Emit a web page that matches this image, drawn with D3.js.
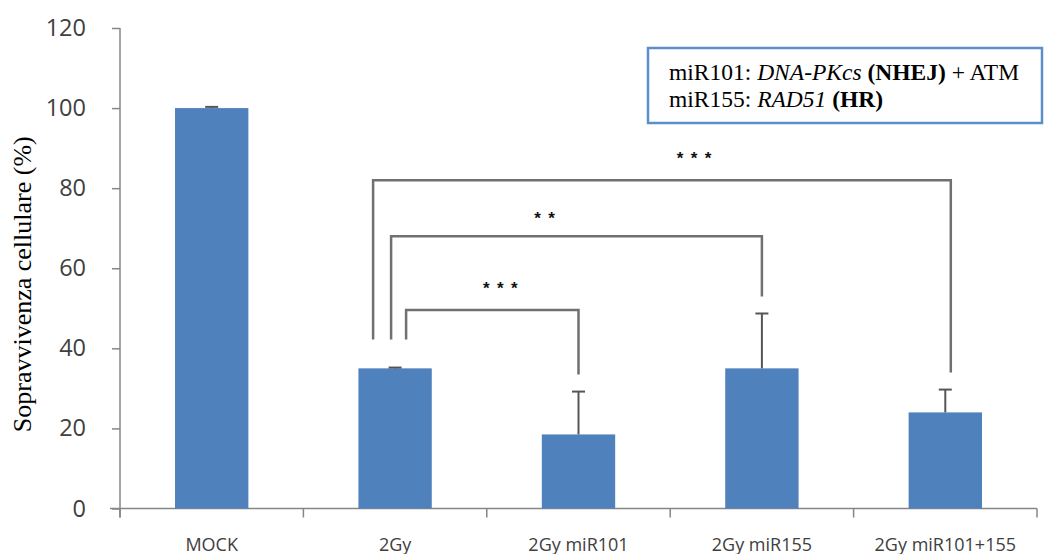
<!DOCTYPE html>
<html>
<head>
<meta charset="utf-8">
<script src="https://cdn.jsdelivr.net/npm/d3@7/dist/d3.min.js"></script>
<style>
  html, body { margin: 0; padding: 0; background: #fff; }
  svg { display: block; }
</style>
</head>
<body>
<svg id="chart" width="1048" height="554"></svg>
<script>
// Survival data (% of control)
const categories = ["MOCK", "2Gy", "2Gy miR101", "2Gy miR155", "2Gy miR101+155"];
const survival = [100, 35, 18.5, 35, 24];
const errors = [0.3, 0.2, 10.7, 13.7, 5.7];
const yTicks = [0, 20, 40, 60, 80, 100, 120];

// Significance comparisons (all against the irradiated control)
const comparisonFrom = ["2Gy", "2Gy", "2Gy"];
const comparisonTo = ["2Gy miR101+155", "2Gy miR155", "2Gy miR101"];
const comparisonLevel = [82, 68, 49.6];
const comparisonStars = ["***", "**", "***"];

const width = 1048, height = 554;
const margin = { top: 28, right: 11, bottom: 45, left: 120 };

const svg = d3.select("#chart");

const x = d3.scaleBand()
  .domain(categories)
  .range([margin.left, width - margin.right])
  .paddingInner(0.6)
  .paddingOuter(0.3);

const xGroup = d3.scaleBand()
  .domain(categories)
  .range([margin.left, width - margin.right])
  .padding(0);

const y = d3.scaleLinear()
  .domain([0, 120])
  .range([height - margin.bottom - 0.5, margin.top]);

const axisColor = "#868686";
const labelColor = "#404040";

// Y axis
const yAxis = svg.append("g")
  .attr("transform", `translate(${margin.left},0)`)
  .call(d3.axisLeft(y).tickValues(yTicks).tickSize(8).tickPadding(26).tickFormat(d3.format("d")));
yAxis.select(".domain").attr("stroke", axisColor).attr("stroke-width", 1.5)
  .attr("d", `M0,${y(120)}V${y(0) + 9}`);
yAxis.selectAll(".tick line").attr("stroke", axisColor).attr("stroke-width", 1.5);
yAxis.selectAll(".tick text")
  .attr("fill", labelColor)
  .style("font-family", "'Open Sans', sans-serif")
  .style("font-size", "23.5px");

// X axis with tick marks at category boundaries
const xAxisG = svg.append("g").attr("transform", `translate(0,${y(0)})`);
xAxisG.append("line")
  .attr("x1", margin.left - 10).attr("x2", width - margin.right)
  .attr("y1", 0).attr("y2", 0)
  .attr("stroke", axisColor).attr("stroke-width", 1.5);
const boundaries = categories.map(c => xGroup(c)).concat([xGroup(categories[categories.length - 1]) + xGroup.bandwidth()]);
xAxisG.selectAll("line.tick")
  .data(boundaries)
  .join("line")
  .attr("class", "tick")
  .attr("x1", d => d).attr("x2", d => d)
  .attr("y1", 0).attr("y2", 9)
  .attr("stroke", axisColor).attr("stroke-width", 1.5);
xAxisG.selectAll("text")
  .data(categories)
  .join("text")
  .attr("x", d => x(d) + x.bandwidth() / 2)
  .attr("y", 42)
  .attr("text-anchor", "middle")
  .attr("fill", "#404040")
  .style("font-family", "'Open Sans', sans-serif")
  .style("font-size", "18px")
  .text(d => d);

// Y title
svg.append("text")
  .attr("transform", `translate(31,${(y(0) + y(120)) / 2 + 16}) rotate(-90)`)
  .attr("text-anchor", "middle")
  .attr("fill", "#000")
  .style("font-family", "'Liberation Serif', 'Times New Roman', serif")
  .style("font-size", "26px")
  .text("Sopravvivenza cellulare (%)");

// Bars
const rows = categories.map((c, i) => ({ c, v: survival[i], e: errors[i] }));
svg.append("g").selectAll("rect")
  .data(rows)
  .join("rect")
  .attr("x", d => x(d.c))
  .attr("width", x.bandwidth())
  .attr("y", d => y(d.v))
  .attr("height", d => y(0) - y(d.v))
  .attr("fill", "#4F81BD");

// Upper error bars
const errG = svg.append("g").attr("stroke", "#555").attr("stroke-width", 2);
const capHalf = 6.5;
rows.forEach(d => {
  const cx = x(d.c) + x.bandwidth() / 2;
  errG.append("line").attr("x1", cx).attr("x2", cx).attr("y1", y(d.v)).attr("y2", y(d.v + d.e));
  errG.append("line").attr("x1", cx - capHalf).attr("x2", cx + capHalf).attr("y1", y(d.v + d.e)).attr("y2", y(d.v + d.e));
});

// Significance brackets
const leftShift = [-22, -4, 11];
const rightShift = [5.5, 0, 0];
const leftGap = 28, rightGap = 17;
const starShift = [32, -32, 8];
const brG = svg.append("g");
const lookup = Object.fromEntries(rows.map(d => [d.c, d]));
comparisonFrom.forEach((from, i) => {
  const a = lookup[from], b = lookup[comparisonTo[i]];
  const x1 = x(a.c) + x.bandwidth() / 2 + leftShift[i];
  const x2 = x(b.c) + x.bandwidth() / 2 + rightShift[i];
  const yl = y(comparisonLevel[i]);
  const y1 = y(a.v + a.e) - leftGap;
  const y2 = y(b.v + b.e) - rightGap;
  brG.append("path")
    .attr("d", `M${x1},${y1}V${yl}H${x2}V${y2}`)
    .attr("fill", "none")
    .attr("stroke", "#707070")
    .attr("stroke-width", 2.5);
  const n = comparisonStars[i].length;
  const cx = (x1 + x2) / 2 + starShift[i];
  const sy = yl - (i === 1 ? 20 : 24);
  d3.range(n).forEach(k => {
    brG.append("text")
      .attr("x", cx + (k - (n - 1) / 2) * 14)
      .attr("y", sy + 8)
      .attr("text-anchor", "middle")
      .attr("fill", "#111")
      .style("font-family", "'Liberation Sans', Arial, sans-serif")
      .style("font-size", "17px")
      .style("font-weight", "bold")
      .text("*");
  });
});

// Annotation box
const box = svg.append("g");
box.append("rect")
  .attr("x", 648).attr("y", 48)
  .attr("width", 394).attr("height", 75)
  .attr("fill", "#fff")
  .attr("stroke", "#5B8FCC")
  .attr("stroke-width", 2.5);
const t1 = box.append("text")
  .attr("x", 669).attr("y", 80)
  .style("font-family", "'Liberation Serif', 'Times New Roman', serif")
  .style("font-size", "23.5px")
  .attr("fill", "#000");
t1.append("tspan").text("miR101: ");
t1.append("tspan").style("font-style", "italic").text("DNA-PKcs");
t1.append("tspan").text(" ");
t1.append("tspan").style("font-weight", "bold").text("(NHEJ)");
t1.append("tspan").text(" + ATM");
const t2 = box.append("text")
  .attr("x", 669).attr("y", 107)
  .style("font-family", "'Liberation Serif', 'Times New Roman', serif")
  .style("font-size", "23.5px")
  .attr("fill", "#000");
t2.append("tspan").text("miR155: ");
t2.append("tspan").style("font-style", "italic").text("RAD51");
t2.append("tspan").text(" ");
t2.append("tspan").style("font-weight", "bold").text("(HR)");
</script>
</body>
</html>
